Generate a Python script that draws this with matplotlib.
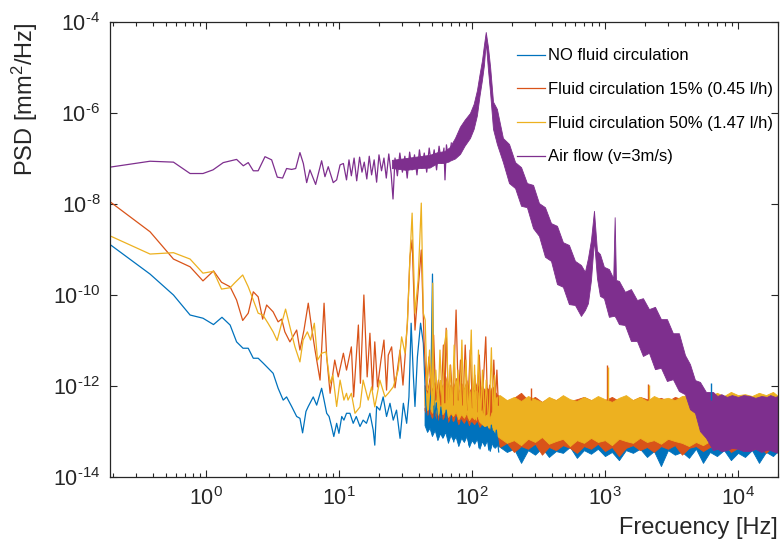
import numpy as np
import matplotlib
matplotlib.use('Agg')
import matplotlib.pyplot as plt
from matplotlib.ticker import LogLocator, NullLocator, NullFormatter, FuncFormatter

plt.rcParams['font.family'] = ['Liberation Sans', 'DejaVu Sans']
plt.rcParams['mathtext.default'] = 'regular'

c_blue = '#0072BD'
c_red = '#D95319'
c_yellow = '#EDB120'
c_purple = '#7E2F8E'

labels = ['NO fluid circulation', 'Fluid circulation 15% (0.45 l/h)',
          'Fluid circulation 50% (1.47 l/h)', 'Air flow (v=3m/s)']

# values are frequency [Hz] and log10(PSD [mm^2/Hz])
# ---- spectrum lines up to ~160 Hz
blue_f = [0.19, 0.38, 0.57, 0.76, 0.95, 1.14, 1.32, 1.52, 1.70, 1.90,
          2.08, 2.27, 2.47, 2.70, 2.94, 3.20, 3.49, 3.81, 4.04, 4.41,
          4.81, 5.09, 5.33, 5.65, 5.88, 6.41, 6.80, 7.41, 7.73, 8.09,
          8.43, 8.80, 9.15, 9.61, 10.0, 10.5, 10.9, 11.4, 12.1, 12.8,
          13.5, 14.4, 15.2, 16.1, 17.1, 18.1, 18.6, 19.2, 20.3, 21.5,
          22.8, 24.2, 25.6, 27.1, 28.8, 30.5, 32.3, 33.6, 34.9, 36.3,
          37.3, 38.9, 41.1, 43.1, 45.0, 47.0, 49.0, 50.5, 52.0, 54.0,
          56.0, 58.5, 61.0, 64.0, 67.0, 70.0, 73.0, 76.0, 79.5, 83.0,
          87.0, 91.0, 95.0, 99.0, 103.5, 108, 113, 118, 123, 128.5,
          134, 140, 146, 152.5, 159]
blue_lp = [-8.89, -9.54, -10.0, -10.44, -10.51, -10.65, -10.49, -10.66, -11.03, -11.17,
           -11.17, -11.39, -11.39, -11.50, -11.61, -11.72, -12.05, -12.31, -12.24, -12.45,
           -12.67, -12.71, -13.03, -12.56, -12.45, -12.24, -12.42, -12.05, -12.31, -12.60,
           -12.67, -12.89, -13.11, -12.82, -13.04, -12.67, -12.75, -12.60, -12.60, -12.82,
           -12.67, -12.89, -12.75, -12.82, -12.60, -12.97, -13.30, -12.45, -12.53, -12.24,
           -12.67, -12.38, -12.75, -12.53, -13.15, -12.38, -12.82, -12.24, -10.62, -11.80,
           -12.45, -11.36, -10.62, -11.06, -12.42, -12.92, -12.20, -9.54, -12.75, -12.37,
           -13.01, -12.46, -13.12, -12.53, -13.01, -12.66, -13.23, -12.68, -13.19, -12.75,
           -13.14, -12.81, -13.30, -12.81, -13.19, -12.86, -13.36, -12.92, -13.27, -12.97,
           -13.41, -12.86, -13.34, -12.97, -13.45]

red_f = [0.19, 0.38, 0.57, 0.76, 0.95, 1.14, 1.31, 1.52, 1.70, 1.89,
         2.08, 2.27, 2.47, 2.67, 2.86, 3.20, 3.49, 3.71, 3.92, 4.28,
         4.81, 5.09, 5.46, 5.88, 6.22, 6.61, 7.21, 7.73, 8.09, 8.58,
         9.30, 9.88, 10.8, 11.4, 12.4, 12.9, 14.0, 14.5, 15.4, 16.3,
         17.1, 17.9, 18.6, 19.5, 20.7, 21.8, 22.8, 23.5, 24.9, 26.4,
         28.8, 30.3, 31.4, 32.7, 34.2, 35.5, 37.3, 39.9, 41.6, 43.6,
         45.5, 47.5, 49.5, 51.5, 53.5, 56.0, 58.5, 61.0, 62.5, 64.0,
         66.5, 69.0, 72.0, 76.0, 79.0, 82.0, 85.5, 89.0, 93.0, 97.0,
         101, 105, 109, 113.5, 118, 122, 127, 131, 136, 141,
         146, 150, 154, 158]
red_lp = [-7.95, -8.61, -9.21, -9.38, -9.69, -9.47, -9.72, -9.82, -10.11, -10.56,
          -10.40, -9.93, -10.04, -10.53, -10.22, -10.37, -10.59, -10.53, -10.81, -11.03,
          -10.77, -11.21, -10.77, -10.18, -10.70, -11.21, -11.87, -10.18, -11.36, -12.16,
          -11.43, -11.80, -11.28, -11.65, -11.14, -12.24, -10.66, -11.94, -10.0, -11.80,
          -10.84, -12.09, -11.03, -12.02, -11.43, -10.99, -12.09, -11.32, -11.14, -12.04,
          -11.21, -11.98, -11.36, -10.62, -9.16, -8.79, -10.77, -9.67, -9.01, -10.99,
          -12.09, -11.36, -12.20, -10.88, -12.31, -11.87, -12.42, -11.10, -12.37, -10.73,
          -12.31, -11.54, -12.42, -10.33, -12.31, -11.43, -12.42, -11.10, -12.53, -11.21,
          -12.48, -11.76, -12.57, -11.32, -12.53, -11.87, -10.92, -12.42, -11.98, -12.57,
          -11.43, -12.31, -11.65, -12.42]

yellow_f = [0.19, 0.38, 0.57, 0.76, 0.95, 1.14, 1.31, 1.52, 1.65, 1.89,
            2.08, 2.27, 2.47, 2.68, 2.93, 3.20, 3.43, 3.71, 3.97, 4.28,
            4.67, 5.09, 5.38, 5.79, 6.12, 6.53, 6.91, 7.41, 8.0, 8.58,
            9.0, 9.61, 10.2, 10.9, 11.4, 11.7, 12.4, 13.2, 14.4, 15.2,
            16.6, 17.6, 18.6, 20.3, 22.2, 23.5, 25.6, 27.9, 29.6, 31.4,
            32.7, 34.2, 35.5, 37.3, 39.4, 41.6, 43.1, 44.5, 46.0, 48.0,
            50.0, 50.7, 51.5, 53.5, 55.5, 57.5, 60.0, 62.0, 64.6, 66.5,
            68.5, 71.0, 73.5, 76.0, 78.5, 81.0, 84.0, 87.0, 90.0, 94.0,
            98.8, 102, 104.6, 108, 112, 116, 120, 124, 128, 134,
            140, 145, 148, 152, 155]
yellow_lp = [-8.70, -9.10, -9.07, -9.21, -9.52, -9.48, -9.87, -9.84, -9.73, -9.56,
             -9.82, -10.11, -10.40, -10.44, -10.62, -10.81, -11.00, -10.62, -10.31, -10.70,
             -11.14, -11.47, -10.99, -10.81, -10.99, -10.62, -11.43, -11.28, -11.25, -11.94,
             -11.76, -12.45, -11.87, -12.31, -12.16, -12.31, -12.16, -12.60, -12.46, -11.87,
             -12.31, -12.02, -12.46, -11.87, -12.24, -12.16, -12.02, -11.65, -10.92, -11.28,
             -10.62, -9.16, -8.20, -10.40, -9.67, -7.98, -10.40, -10.55, -12.09, -11.21,
             -12.31, -9.74, -12.42, -11.65, -12.48, -11.21, -12.53, -11.10, -10.77, -12.53,
             -11.54, -12.57, -11.10, -12.57, -11.65, -12.64, -10.99, -12.64, -11.43, -12.70,
             -10.77, -12.70, -11.54, -12.75, -11.21, -12.79, -11.65, -12.86, -11.87, -12.92,
             -11.16, -12.97, -11.76, -12.86, -12.26]

purple_f = [0.19, 0.38, 0.57, 0.76, 0.95, 1.13, 1.35, 1.70, 1.91, 2.08,
            2.27, 2.47, 2.78, 3.12, 3.44, 3.77, 4.04, 4.41, 4.73, 5.09,
            5.40, 5.72, 6.05, 6.68, 7.41, 7.85, 8.31, 9.06, 9.61, 10.2,
            10.8, 11.4, 11.9, 12.4, 13.0, 13.6, 14.3, 14.9, 15.5, 16.2,
            16.9, 17.6, 18.4, 19.2, 20.0, 20.9, 21.8, 22.7, 23.7, 24.7,
            25.5, 26.4, 27.5, 28.7, 30.0, 31.3, 32.6, 34.0, 35.5, 37.0,
            38.6, 40.3, 42.0, 43.8, 45.7, 47.7, 49.8, 52.0, 54.2, 56.6,
            59.0, 61.6, 62.7, 64.3, 67.0, 70.0]
purple_lp = [-7.19, -7.06, -7.08, -7.33, -7.33, -7.25, -7.09, -7.02, -7.16, -7.09,
             -7.27, -7.27, -6.96, -7.03, -7.41, -7.43, -7.22, -7.24, -7.22, -6.87,
             -7.11, -7.53, -7.25, -7.57, -7.05, -7.40, -7.18, -7.53, -7.47, -7.14,
             -7.11, -7.47, -7.03, -7.38, -6.99, -7.49, -6.97, -7.30, -7.08, -7.45,
             -6.95, -7.36, -7.03, -7.52, -6.92, -7.27, -6.99, -7.43, -6.90, -7.34,
             -7.89, -6.99, -7.38, -6.88, -7.30, -6.95, -7.43, -6.86, -7.25, -6.92,
             -7.36, -6.81, -7.21, -6.88, -7.30, -6.77, -7.16, -6.81, -7.25, -6.73,
             -7.10, -6.77, -7.47, -6.70, -7.08, -6.66]

# ---- dense core of each spectrum between 44 and 155 Hz (upper / lower edge)
core_f = [44, 46, 48, 50, 52.5, 55, 57.5, 60, 63, 66,
          69, 72, 75.5, 79, 83, 87, 91, 95, 99.5, 104,
          109, 114, 119, 124, 130, 136, 142, 148, 155]
blue_core_hi = [-12.48, -12.42, -12.53, -12.40, -12.51, -12.44, -12.53, -12.42, -12.48, -12.40,
                -12.51, -12.44, -12.53, -12.42, -12.48, -12.40, -12.51, -12.44, -12.53, -12.42,
                -12.48, -12.40, -12.51, -12.44, -12.53, -12.42, -12.48, -12.53, -12.57]
blue_core_lo = [-12.86, -13.01, -12.92, -13.10, -12.97, -13.19, -13.04, -13.14, -13.01, -13.25,
                -13.08, -13.19, -13.12, -13.32, -13.14, -13.23, -13.10, -13.34, -13.19, -13.27,
                -13.16, -13.38, -13.21, -13.32, -13.19, -13.43, -13.25, -13.36, -13.30]
red_core_hi = [-11.98, -12.13, -11.82, -12.09, -11.91, -12.20, -11.87, -12.04, -11.78, -12.13,
               -11.96, -12.09, -11.82, -12.18, -11.93, -12.07, -11.87, -12.15, -12.00, -12.11,
               -11.91, -12.18, -11.98, -12.09, -12.04, -12.13, -12.00, -12.11, -12.20]
red_core_lo = [-12.53, -12.64, -12.57, -12.70, -12.62, -12.75, -12.66, -12.73, -12.64, -12.79,
               -12.70, -12.77, -12.68, -12.84, -12.73, -12.81, -12.70, -12.86, -12.77, -12.84,
               -12.75, -12.90, -12.81, -12.88, -12.84, -12.95, -12.88, -12.97, -13.01]
yellow_core_hi = [-12.04, -12.20, -11.91, -12.15, -11.98, -12.26, -11.87, -12.09, -11.82, -12.18,
                  -12.00, -12.13, -11.87, -12.22, -11.96, -12.11, -11.91, -12.20, -12.04, -12.15,
                  -12.09, -12.26, -12.57, -12.66, -12.62, -12.70, -12.53, -12.31, -12.22]
yellow_core_lo = [-12.42, -12.53, -12.46, -12.59, -12.51, -12.64, -12.55, -12.62, -12.53, -12.68,
                  -12.59, -12.66, -12.57, -12.73, -12.62, -12.70, -12.59, -12.75, -12.66, -12.73,
                  -12.64, -12.79, -12.84, -12.88, -12.86, -12.92, -12.90, -13.01, -13.10]

# ---- flat noise floor above ~160 Hz
floor_f = [162, 183, 207, 234, 264, 298, 336, 379, 428, 483,
           545, 615, 695, 785, 885, 1000, 1128, 1274, 1437, 1624,
           1834, 2070, 2334, 2636, 2977, 3357, 3793, 4282, 4833, 5458,
           6152, 6951, 7852, 8851, 10000, 11290, 12740, 14390, 16250, 18330,
           20000]
blue_floor_hi = [-12.50, -12.55, -12.46, -12.53, -12.48, -12.55, -12.50, -12.46, -12.53, -12.49,
                 -12.55, -12.48, -12.52, -12.46, -12.54, -12.49, -12.53, -12.47, -12.55, -12.50,
                 -12.46, -12.53, -12.49, -12.55, -12.47, -12.52, -12.48, -12.54, -12.50, -12.46,
                 -12.53, -12.49, -12.55, -12.47, -12.52, -12.48, -12.54, -12.50, -12.46, -12.53,
                 -12.50]
blue_floor_lo = [-13.34, -13.45, -13.38, -13.69, -13.41, -13.51, -13.36, -13.56, -13.43, -13.47,
                 -13.34, -13.58, -13.41, -13.49, -13.38, -13.54, -13.45, -13.63, -13.41, -13.47,
                 -13.38, -13.56, -13.43, -13.76, -13.41, -13.51, -13.45, -13.58, -13.38, -13.69,
                 -13.45, -13.54, -13.41, -13.63, -13.47, -13.56, -13.41, -13.69, -13.45, -13.54,
                 -13.43]
red_floor_hi = [-12.22, -12.33, -12.26, -12.15, -12.31, -12.24, -12.35, -12.26, -12.31, -12.22,
                -12.33, -12.29, -12.24, -12.31, -12.29, -12.31, -12.24, -12.33, -12.26, -12.31,
                -12.24, -12.29, -12.31, -12.26, -12.33, -12.24, -12.29, -12.22, -12.31, -12.26,
                -12.31, -12.24, -12.29, -12.33, -12.22, -12.31, -12.26, -12.24, -12.29, -12.22,
                -12.31]
red_floor_lo = [-13.34, -13.25, -13.45, -13.32, -13.38, -13.27, -13.51, -13.34, -13.41, -13.30,
                -13.36, -13.47, -13.32, -13.38, -13.27, -13.43, -13.34, -13.54, -13.36, -13.30,
                -13.41, -13.34, -13.45, -13.32, -13.38, -13.30, -13.51, -13.36, -13.32, -13.43,
                -13.34, -13.38, -13.27, -13.45, -13.36, -13.32, -13.41, -13.34, -13.47, -13.32,
                -13.38]
yellow_floor_hi = [-12.20, -12.31, -12.24, -12.33, -12.22, -12.29, -12.35, -12.24, -12.31, -12.20,
                   -12.29, -12.33, -12.24, -12.31, -12.22, -12.29, -12.35, -12.26, -12.20, -12.31,
                   -12.24, -12.33, -12.22, -12.29, -12.26, -12.31, -12.22, -12.20, -12.26, -12.18,
                   -12.24, -12.15, -12.22, -12.13, -12.20, -12.18, -12.22, -12.15, -12.20, -12.13,
                   -12.22]
yellow_floor_lo = [-13.14, -13.25, -13.19, -13.30, -13.16, -13.23, -13.12, -13.27, -13.21, -13.16,
                   -13.32, -13.19, -13.25, -13.14, -13.23, -13.19, -13.30, -13.16, -13.21, -13.25,
                   -13.14, -13.23, -13.19, -13.27, -13.16, -13.21, -13.25, -13.32, -13.23, -13.30,
                   -13.21, -13.36, -13.25, -13.32, -13.21, -13.27, -13.34, -13.23, -13.30, -13.19,
                   -13.25]

# ---- air flow noise band: rise to the 127 Hz resonance
purple_rise_f = [25.0, 32.0, 40.0, 48.0, 55.0, 62.0, 68.0, 74.5, 81.3, 88.0,
                 96.6, 103, 109, 114, 119, 123, 127, 132, 137, 144]
purple_rise_hi = [-7.03, -6.99, -6.95, -6.92, -6.86, -6.84, -6.75, -6.55, -6.30, -6.15,
                  -6.00, -5.80, -5.50, -5.15, -4.84, -4.51, -4.22, -4.55, -4.99, -5.75]
purple_rise_lo = [-7.21, -7.25, -7.21, -7.20, -7.10, -7.10, -7.05, -7.00, -6.90, -6.72,
                  -6.55, -6.35, -6.05, -5.62, -5.27, -4.95, -4.44, -5.05, -5.56, -6.35]
# decay after the resonance, second mode near 830 Hz
purple_fall_f = [154, 171, 190, 211, 234, 259, 288, 319, 354, 393,
                 436, 483, 536, 595, 660, 707, 745, 785, 827, 871,
                 917, 982, 1071, 1154, 1183, 1210, 1274, 1413, 1567, 1740,
                 1930, 2143, 2377, 2636, 2924, 3243, 3597, 3997, 4357, 4754,
                 5180, 5745, 6486]
purple_fall_hi = [-5.91, -6.55, -6.68, -7.08, -7.19, -7.54, -7.58, -7.98, -8.07, -8.42,
                  -8.48, -8.84, -8.90, -9.25, -9.34, -9.49, -9.19, -8.79, -8.15, -9.03,
                  -9.10, -9.38, -9.43, -9.63, -8.29, -9.67, -9.69, -9.93, -9.87, -10.11,
                  -10.07, -10.31, -10.26, -10.53, -10.53, -10.84, -10.84, -11.32, -11.52, -11.87,
                  -11.91, -12.13, -12.13]
purple_fall_lo = [-6.68, -7.08, -7.54, -7.65, -8.04, -8.07, -8.53, -8.70, -9.16, -9.25,
                  -9.76, -9.82, -10.20, -10.22, -10.46, -10.33, -10.18, -9.67, -8.79, -9.63,
                  -10.02, -10.07, -10.48, -10.46, -10.46, -10.51, -10.64, -10.66, -11.01, -11.01,
                  -11.34, -11.27, -11.63, -11.60, -11.89, -11.85, -12.11, -12.18, -12.51, -12.59,
                  -12.99, -13.14, -13.41]
# floor above ~7 kHz
purple_tail_f = [7000, 7500, 8255, 9000, 10000, 11000, 12300, 13500, 15000, 16500,
                 17500, 19000, 20000]
purple_tail_hi = [-12.22, -12.18, -12.24, -12.20, -12.24, -12.20, -12.22, -12.26, -12.22, -12.24,
                  -12.20, -12.24, -12.22]
purple_tail_lo = [-13.38, -13.43, -13.41, -13.36, -13.38, -13.43, -13.43, -13.38, -13.45, -13.40,
                  -13.41, -13.45, -13.47]

# isolated narrow lines sticking out of the floor
red_spike_f = [279, 1030, 2100]
red_spike_top = [-12.04, -11.54, -11.96]
yellow_spike_f = [1060, 2150]
yellow_spike_top = [-11.58, -11.98]
blue_spike_f = [6220]
blue_spike_top = [-11.93]
spike_base = -12.3


def p(v):
    return 10.0 ** np.asarray(v, dtype=float)


def log_label(v, pos):
    e = int(round(np.log10(v)))
    return '$10^{%s}$' % str(e).replace('-', '\u2010')


fig = plt.figure(figsize=(7.83, 5.41), dpi=100)
ax = fig.add_axes([110 / 783, 64 / 541, 668 / 783, 455 / 541])
ax.set_xscale('log')
ax.set_yscale('log')

series = [
    (c_blue, blue_f, blue_lp, core_f + floor_f, blue_core_hi + blue_floor_hi,
     blue_core_lo + blue_floor_lo, blue_spike_f, blue_spike_top),
    (c_red, red_f, red_lp, core_f + floor_f, red_core_hi + red_floor_hi,
     red_core_lo + red_floor_lo, red_spike_f, red_spike_top),
    (c_yellow, yellow_f, yellow_lp, core_f + floor_f, yellow_core_hi + yellow_floor_hi,
     yellow_core_lo + yellow_floor_lo, yellow_spike_f, yellow_spike_top),
    (c_purple, purple_f, purple_lp,
     purple_rise_f + purple_fall_f + purple_tail_f,
     purple_rise_hi + purple_fall_hi + purple_tail_hi,
     purple_rise_lo + purple_fall_lo + purple_tail_lo, [], []),
]

handles = []
for (col, f, lp, bf, bhi, blo, sf, stop), lab in zip(series, labels):
    ax.fill_between(bf, p(blo), p(bhi), color=col, lw=0.6, ec=col)
    ln, = ax.plot(f, p(lp), color=col, lw=0.9, label=lab)
    handles.append(ln)
    if sf:
        ax.vlines(sf, p(spike_base), p(stop), color=col, lw=1.0)

ax.set_xlim(0.19, 2.0e4)
ax.set_ylim(1e-14, 1e-4)
ax.set_yticks([1e-14, 1e-12, 1e-10, 1e-8, 1e-6, 1e-4])
ax.yaxis.set_minor_locator(NullLocator())
ax.yaxis.set_major_formatter(FuncFormatter(log_label))
ax.xaxis.set_major_locator(LogLocator(base=10, numticks=20))
ax.xaxis.set_major_formatter(FuncFormatter(log_label))
ax.xaxis.set_minor_locator(LogLocator(base=10, subs=np.arange(2, 10), numticks=20))
ax.xaxis.set_minor_formatter(NullFormatter())

dark = '#262626'
for s in ax.spines.values():
    s.set_color(dark)
    s.set_linewidth(0.9)
ax.tick_params(which='both', direction='in', top=True, right=True, colors=dark,
               labelsize=15.5, width=0.8)
ax.tick_params(which='major', length=5, pad=7)
ax.tick_params(which='minor', length=2.6)

ax.set_xlabel('Frecuency [Hz]', fontsize=17, color=dark, ha='right', va='center')
ax.xaxis.set_label_coords(1.0, -0.112)
ax.set_ylabel('PSD [mm$^2$/Hz]', fontsize=17, color=dark, va='center')
ax.yaxis.set_label_coords(-0.127, 0.83)

leg = ax.legend(handles=handles, loc='upper left', bbox_to_anchor=(0.609, 0.942),
                frameon=False, fontsize=12, handlelength=1.7, handletextpad=0.15,
                labelspacing=1.12, borderpad=0, borderaxespad=0)
for t in leg.get_texts():
    t.set_color('black')

fig.savefig('out.png', dpi=100)
